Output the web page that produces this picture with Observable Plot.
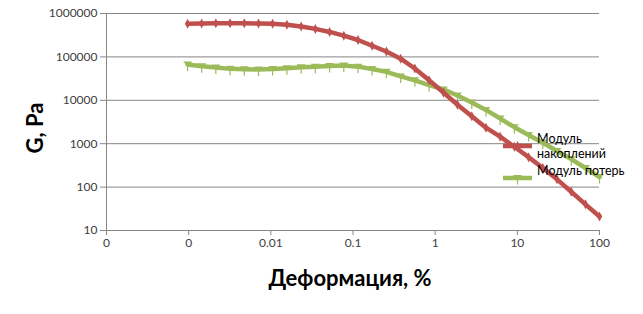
<!DOCTYPE html>
<html><head><meta charset="utf-8">
<script src="https://cdn.jsdelivr.net/npm/d3@7"></script>
<script src="https://cdn.jsdelivr.net/npm/@observablehq/plot@0.6"></script>
<style>body{margin:0;background:#fff}</style>
</head><body><div id="chart"></div>
<script>
const strain = [0.00097, 0.00144, 0.00214, 0.00319, 0.00475, 0.00708, 0.0105, 0.0157, 0.0234, 0.0348,
  0.0519, 0.0773, 0.115, 0.171, 0.255, 0.380, 0.566, 0.843, 1.26, 1.87,
  2.79, 4.15, 6.18, 9.20, 13.7, 20.4, 30.4, 45.3, 67.5, 100];
const storage = [580000, 589000, 596000, 598000, 596000, 589000, 580000, 552000, 501000, 442000,
  376000, 309000, 245000, 181000, 133000, 91000, 54000, 29000, 15100, 7900,
  4300, 2340, 1450, 850, 490, 275, 151, 78, 40, 21];
const loss = [67000, 61000, 57000, 53000, 52000, 51300, 52500, 55000, 57500, 59600,
  61700, 63000, 59600, 52500, 45200, 35500, 28800, 22400, 17800, 12900,
  8900, 6000, 3800, 2400, 1580, 1050, 680, 440, 275, 170];
const xTicks = [0.0001, 0.001, 0.01, 0.1, 1, 10, 100];
const xTickLabels = ["0", "0", "0.01", "0.1", "1", "10", "100"];
const yTicks = [10, 100, 1000, 10000, 100000, 1000000];
const yTickLabels = ["10", "100", "1000", "10000", "100000", "1000000"];
const seriesNames = ["Модуль накоплений", "Модуль потерь"];
const legendLines = [["Модуль", "накоплений"], ["Модуль потерь"]];
const colors = ["#C0504D", "#9BBB59"];
const xTitle = "Деформация, %";
const yTitle = "G, Pa";

const xLab = new Map(xTicks.map((d, i) => [d, xTickLabels[i]]));
const yLab = new Map(yTicks.map((d, i) => [d, yTickLabels[i]]));
const storageData = strain.map((x, i) => ({x, y: storage[i]}));
const lossData = strain.map((x, i) => ({x, y: loss[i]}));

const redMarker = {draw(c) { c.moveTo(0, -5); c.lineTo(2.6, 0); c.lineTo(0, 5); c.lineTo(-2.6, 0); c.closePath(); }};
const greenMarker = {draw(c) {
  c.moveTo(-4.5, -3); c.lineTo(4.5, -3); c.lineTo(0, 2); c.closePath();
  c.moveTo(-0.6, 0); c.lineTo(0.6, 0); c.lineTo(0.6, 6.5); c.lineTo(-0.6, 6.5); c.closePath();
}};

const tickFont = "Lato";
const chart = Plot.plot({
  width: 643, height: 314,
  marginLeft: 106, marginRight: 44, marginTop: 13, marginBottom: 84,
  style: {fontFamily: tickFont, fontSize: "12px", background: "#fff", overflow: "visible"},
  x: {type: "log", domain: [1e-4, 100]},
  y: {type: "log", domain: [10, 1e6]},
  marks: [
    Plot.gridY(yTicks, {stroke: "#868686", strokeOpacity: 1}),
    Plot.ruleX([1e-4], {stroke: "#868686"}),
    Plot.ruleY([10], {stroke: "#868686"}),
    Plot.axisX(xTicks, {tickSize: 5, tickPadding: 3, stroke: "#868686", fill: "#404040", tickFormat: d => xLab.get(d), label: null}),
    Plot.axisY(yTicks, {tickSize: 6, tickPadding: 3, stroke: "#868686", fill: "#404040", tickFormat: d => yLab.get(d), label: null}),
    Plot.line(lossData, {x: "x", y: "y", stroke: colors[1], strokeWidth: 4.5}),
    Plot.dot(lossData, {x: "x", y: "y", fill: colors[1], symbol: greenMarker, r: 4}),
    Plot.line(storageData, {x: "x", y: "y", stroke: colors[0], strokeWidth: 4.5}),
    Plot.dot(storageData, {x: "x", y: "y", fill: colors[0], symbol: redMarker, r: 4})
  ]
});
document.getElementById("chart").appendChild(chart);

const svg = d3.select(chart);
// Legend
const lg = svg.append("g").attr("font-family", "Lato").attr("font-size", 12.5).attr("fill", "#000").attr("text-anchor", "start");
const legY = [146, 178];
[0, 1].forEach(i => {
  lg.append("line").attr("x1", 503).attr("x2", 532).attr("y1", legY[i]).attr("y2", legY[i])
    .attr("stroke", colors[i]).attr("stroke-width", 4.5);
  lg.append("path").attr("transform", `translate(517.5,${legY[i]})`)
    .attr("d", d3.symbol(i === 0 ? redMarker : greenMarker)()).attr("fill", colors[i]);
});
legendLines[0].forEach((t, j) => lg.append("text").attr("x", 537).attr("y", 143 + j * 14.5).text(t));
legendLines[1].forEach((t, j) => lg.append("text").attr("x", 537).attr("y", 175 + j * 14.5).text(t));
// Axis titles
svg.append("text").attr("x", 350).attr("y", 286).attr("text-anchor", "middle")
  .attr("font-family", "Lato").attr("font-weight", "bold").attr("font-size", 22).attr("fill", "#000").text(xTitle);
svg.append("text").attr("transform", "translate(43,128) rotate(-90)").attr("text-anchor", "middle")
  .attr("font-family", "Lato").attr("font-weight", "bold").attr("font-size", 22).attr("fill", "#000").text(yTitle);
</script>
</body></html>
